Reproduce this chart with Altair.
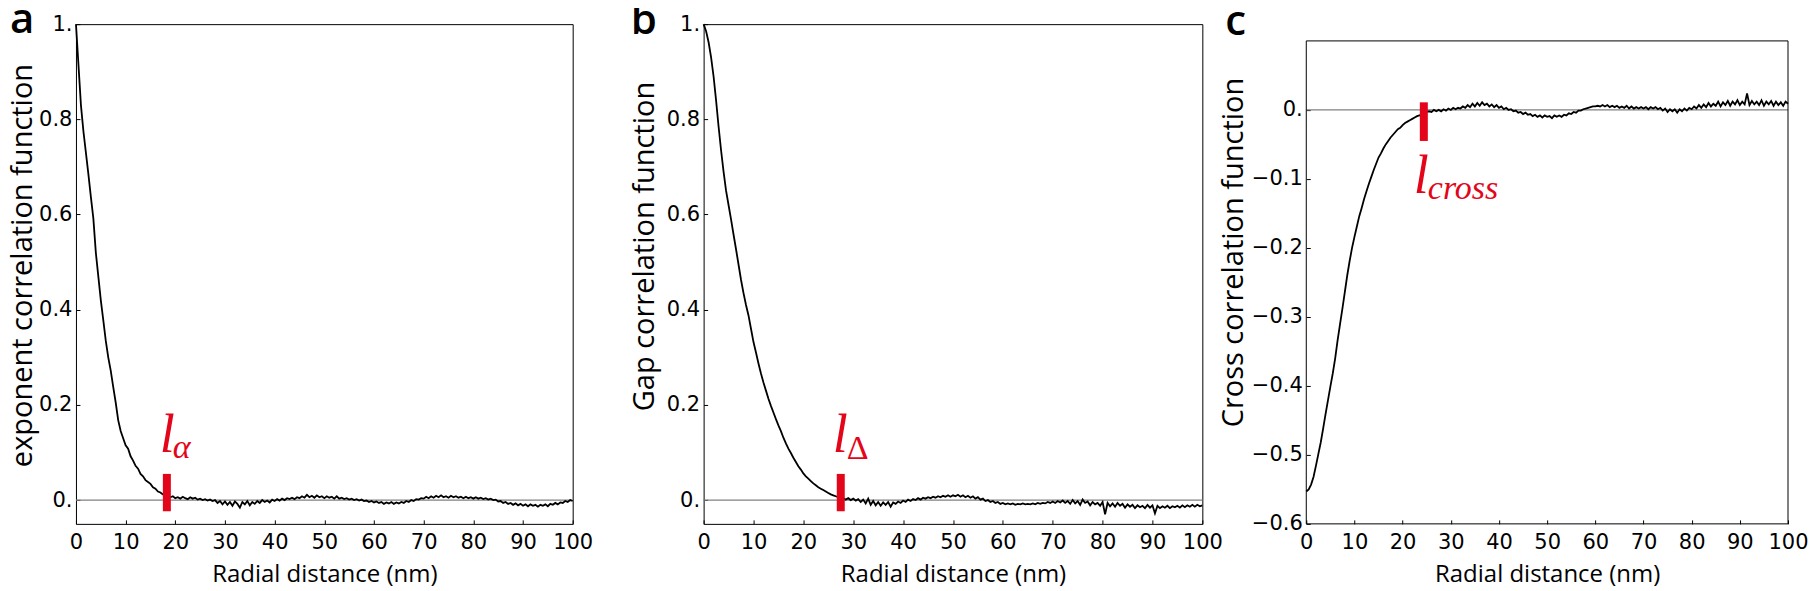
import altair as alt
import pandas as pd

# ---------------- data ----------------
radial_nm = [i * 0.5 for i in range(201)]  # sampling grid 0..100 nm

exponent_corr = [
    1.000, 0.915, 0.830, 0.775, 0.730, 0.685, 0.637, 0.592, 0.520, 0.470,
    0.420, 0.378, 0.335, 0.300, 0.272, 0.238, 0.205, 0.168, 0.145, 0.130,
    0.115, 0.108, 0.092, 0.083, 0.072, 0.066, 0.055, 0.050, 0.042, 0.038,
    0.034, 0.027, 0.024, 0.018, 0.016, 0.012, 0.011, 0.009, 0.006, 0.008,
    0.004, 0.006, 0.003, 0.007, 0.004, 0.002, 0.006, 0.003, 0.005, 0.001,
    0.003, 0.000, 0.002, -0.001, 0.001, -0.002, 0.000, -0.006, -0.002, -0.009,
    -0.003, -0.010, -0.004, -0.012, -0.003, -0.008, -0.016, -0.004, -0.009, -0.002,
    -0.011, -0.004, -0.008, -0.002, -0.006, 0.000, -0.004, -0.001, -0.005, 0.001,
    -0.002, 0.002, -0.001, 0.003, 0.000, 0.004, 0.002, 0.005, 0.002, 0.006,
    0.004, 0.008, 0.005, 0.011, 0.006, 0.009, 0.005, 0.010, 0.006, 0.008,
    0.004, 0.008, 0.005, 0.007, 0.003, 0.008, 0.003, 0.005, 0.002, 0.004,
    0.001, 0.003, 0.000, 0.002, -0.001, 0.001, -0.002, -0.001, -0.004, -0.002,
    -0.005, -0.003, -0.006, -0.004, -0.008, -0.005, -0.007, -0.004, -0.008, -0.005,
    -0.007, -0.004, -0.006, -0.002, -0.004, 0.000, -0.002, 0.002, 0.001, 0.004,
    0.003, 0.007, 0.004, 0.008, 0.005, 0.009, 0.006, 0.010, 0.006, 0.008,
    0.005, 0.009, 0.006, 0.008, 0.005, 0.007, 0.004, 0.007, 0.004, 0.006,
    0.003, 0.006, 0.003, 0.005, 0.002, 0.004, 0.001, 0.003, 0.000, 0.001,
    -0.003, -0.002, -0.006, -0.004, -0.008, -0.006, -0.010, -0.007, -0.011, -0.008,
    -0.012, -0.009, -0.013, -0.009, -0.012, -0.010, -0.014, -0.010, -0.012, -0.009,
    -0.013, -0.008, -0.010, -0.006, -0.009, -0.005, -0.006, -0.002, -0.004, 0.000,
    -0.002,
]

gap_corr = [
    1.000, 0.985, 0.962, 0.930, 0.890, 0.840, 0.785, 0.735, 0.690, 0.650,
    0.620, 0.590, 0.558, 0.527, 0.495, 0.463, 0.435, 0.410, 0.388, 0.360,
    0.332, 0.310, 0.287, 0.266, 0.247, 0.230, 0.213, 0.198, 0.184, 0.170,
    0.157, 0.145, 0.131, 0.119, 0.108, 0.099, 0.089, 0.080, 0.071, 0.064,
    0.056, 0.050, 0.045, 0.040, 0.035, 0.031, 0.027, 0.024, 0.021, 0.018,
    0.015, 0.012, 0.010, 0.008, 0.006, 0.005, 0.004, 0.001, 0.004, 0.000,
    0.003, -0.001, 0.002, -0.004, 0.001, -0.007, 0.003, -0.010, -0.002, -0.011,
    -0.004, -0.012, -0.005, -0.010, -0.004, -0.014, -0.005, -0.008, -0.003, -0.006,
    -0.001, -0.004, 0.001, -0.002, 0.002, 0.000, 0.004, 0.001, 0.005, 0.003,
    0.006, 0.004, 0.007, 0.005, 0.008, 0.006, 0.009, 0.007, 0.010, 0.007,
    0.010, 0.008, 0.011, 0.007, 0.010, 0.006, 0.009, 0.005, 0.008, 0.003,
    0.006, 0.001, 0.003, -0.002, 0.000, -0.004, -0.002, -0.006, -0.004, -0.008,
    -0.006, -0.009, -0.007, -0.009, -0.007, -0.010, -0.008, -0.009, -0.007, -0.009,
    -0.008, -0.009, -0.007, -0.009, -0.006, -0.008, -0.006, -0.007, -0.004, -0.006,
    -0.003, -0.006, -0.002, -0.005, -0.001, -0.006, -0.002, -0.008, 0.000, -0.007,
    -0.002, -0.010, 0.001, -0.006, -0.003, -0.011, -0.004, -0.009, -0.006, -0.012,
    -0.004, -0.030, -0.006, -0.013, -0.007, -0.014, -0.006, -0.012, -0.008, -0.016,
    -0.009, -0.014, -0.010, -0.017, -0.011, -0.015, -0.012, -0.017, -0.010, -0.016,
    -0.011, -0.028, -0.012, -0.017, -0.013, -0.016, -0.012, -0.017, -0.013, -0.015,
    -0.012, -0.016, -0.011, -0.015, -0.011, -0.014, -0.010, -0.014, -0.010, -0.013,
    -0.011,
]

cross_corr = [
    -0.553, -0.550, -0.543, -0.532, -0.516, -0.499, -0.482, -0.462, -0.441, -0.421,
    -0.401, -0.382, -0.360, -0.334, -0.311, -0.288, -0.264, -0.240, -0.219, -0.200,
    -0.184, -0.169, -0.154, -0.142, -0.129, -0.118, -0.107, -0.097, -0.087, -0.078,
    -0.069, -0.063, -0.056, -0.050, -0.045, -0.040, -0.036, -0.032, -0.028, -0.026,
    -0.022, -0.019, -0.017, -0.015, -0.013, -0.011, -0.009, -0.008, -0.006, -0.005,
    -0.003, -0.002, -0.003, 0.000, -0.002, 0.000, -0.002, 0.001, -0.001, 0.002,
    0.000, 0.003, 0.001, 0.003, 0.002, 0.005, 0.003, 0.007, 0.004, 0.009,
    0.005, 0.010, 0.006, 0.011, 0.007, 0.009, 0.005, 0.008, 0.004, 0.007,
    0.003, 0.005, 0.001, 0.003, 0.000, 0.001, -0.002, -0.001, -0.004, -0.003,
    -0.006, -0.004, -0.007, -0.006, -0.009, -0.007, -0.010, -0.008, -0.011, -0.008,
    -0.010, -0.009, -0.012, -0.008, -0.010, -0.008, -0.010, -0.007, -0.008, -0.005,
    -0.006, -0.003, -0.004, -0.001, -0.001, 0.001, 0.002, 0.003, 0.004, 0.005,
    0.005, 0.006, 0.005, 0.007, 0.005, 0.007, 0.004, 0.006, 0.004, 0.006,
    0.003, 0.005, 0.003, 0.006, 0.002, 0.005, 0.002, 0.004, 0.002, 0.004,
    0.002, 0.004, 0.001, 0.004, 0.002, 0.004, 0.001, 0.003, -0.001, 0.002,
    -0.003, 0.001, -0.002, 0.001, -0.004, 0.001, -0.002, 0.002, -0.001, 0.003,
    0.001, 0.005, 0.002, 0.007, 0.003, 0.008, 0.004, 0.010, 0.005, 0.009,
    0.006, 0.012, 0.005, 0.011, 0.007, 0.013, 0.006, 0.012, 0.008, 0.014,
    0.007, 0.012, 0.008, 0.024, 0.007, 0.013, 0.008, 0.012, 0.007, 0.014,
    0.006, 0.012, 0.008, 0.013, 0.006, 0.012, 0.007, 0.011, 0.006, 0.012,
    0.009,
]

x_ticks = [0, 10, 20, 30, 40, 50, 60, 70, 80, 90, 100]
ab_y_ticks = [0.0, 0.2, 0.4, 0.6, 0.8, 1.0]
c_y_ticks = [-0.6, -0.5, -0.4, -0.3, -0.2, -0.1, 0.0]
c_frame_range = [-0.6, 0.1]     # visible frame of panel c

panel_letters = ["a", "b", "c"]
y_titles = ["exponent correlation function", "Gap correlation function", "Cross correlation function"]
x_title = "Radial distance (nm)"

marker_x = [18.3, 27.5, 24.4]
marker_lo = [-0.0235, -0.0235, -0.045]
marker_hi = [0.055, 0.055, 0.011]
marker_main = ["l", "l", "l"]
marker_sub = ["α", "Δ", "cross"]

RED = "#e3061b"
LABEL_FONT = "DejaVu Sans"
TITLE_FONT = "Open Sans"
SERIF = "Liberation Serif"

y_label_expr = ("datum.value == 0 ? '0.' : (datum.value == 1 ? '1.' : "
                "format(datum.value, '.1f'))")


def panel(i, values, ydomain, yticks, letter_dx, letter_dy,
          text_on_top, main_off, sub_off, sub_italic, title_pad, title_y):
    line_df = pd.DataFrame({"r": radial_nm, "v": values})
    x_enc = alt.X(
        "r:Q",
        scale=alt.Scale(domain=[0, 100], nice=False, zero=False),
        axis=alt.Axis(
            values=x_ticks, title=x_title, grid=False, domain=False,
            ticks=True, tickSize=4, offset=-4, tickColor="black", tickWidth=1,
            labelFont=LABEL_FONT, labelFontSize=21, labelColor="black",
            labelPadding=8, labelFlush=False, format="d",
            titleFont=TITLE_FONT, titleFontSize=24, titleFontWeight="normal",
            titleColor="black", titlePadding=10,
        ),
    )
    y_enc = alt.Y(
        "v:Q",
        scale=alt.Scale(domain=ydomain, nice=False, zero=False),
        axis=alt.Axis(
            values=yticks, title=y_titles[i], grid=False, domain=False,
            ticks=True, tickSize=4, offset=-4, tickColor="black", tickWidth=1,
            labelFont=LABEL_FONT, labelFontSize=21, labelColor="black",
            labelPadding=4, labelFlush=False, labelExpr=y_label_expr,
            titleFont=TITLE_FONT, titleFontSize=29, titleFontWeight="normal",
            titleColor="black", titlePadding=title_pad, titleY=title_y,
        ),
    )

    zero = alt.Chart(pd.DataFrame({"v": [0.0]})).mark_rule(
        color="#808080", strokeWidth=1.2
    ).encode(y="v:Q")

    curve = alt.Chart(line_df).mark_line(
        color="black", strokeWidth=1.8
    ).encode(x=x_enc, y=y_enc)

    mk = pd.DataFrame({
        "r": [marker_x[i]], "v": [marker_lo[i]], "v2": [marker_hi[i]],
        "anchor": [marker_hi[i] if text_on_top else marker_lo[i]],
        "main": [marker_main[i]], "sub": [marker_sub[i]],
    })
    bar = alt.Chart(mk).mark_rule(color=RED, strokeWidth=8).encode(
        x="r:Q", y="v:Q", y2="v2:Q"
    )
    main_txt = alt.Chart(mk).mark_text(
        font=SERIF, fontStyle="italic", fontSize=54, color=RED,
        align="left", baseline="alphabetic", dx=main_off[0], dy=main_off[1]
    ).encode(x="r:Q", y=alt.Y("anchor:Q"), text="main:N")
    sub_txt = alt.Chart(mk).mark_text(
        font=SERIF, fontStyle="italic" if sub_italic else "normal",
        fontSize=34, color=RED, align="left", baseline="alphabetic",
        dx=sub_off[0], dy=sub_off[1]
    ).encode(x="r:Q", y=alt.Y("anchor:Q"), text="sub:N")

    letter = alt.Chart(pd.DataFrame({"t": [panel_letters[i]]})).mark_text(
        font=TITLE_FONT, fontSize=42, fontWeight=600, color="black",
        align="left", baseline="alphabetic"
    ).encode(text="t:N", x=alt.value(letter_dx), y=alt.value(letter_dy))

    return [zero, curve, bar, main_txt, sub_txt, letter]


la = panel(0, exponent_corr, [-0.05, 1.0], ab_y_ticks, -66, 8.5,
           True, (-7, -22), (6, -16), True, 1, 241)
lb = panel(1, gap_corr, [-0.05, 1.0], ab_y_ticks, -73, 9.5,
           True, (-8, -22), (6, -15), False, 7, 222)
lc = panel(2, cross_corr, [-0.6, 0.1243], c_y_ticks, -81, 10.5,
           False, (-10, 52), (4, 58), True, 3, 228)

pa = alt.layer(*la).properties(width=497, height=500)
pb = alt.layer(*lb).properties(width=499, height=500)

# panel c: frame drawn at the data limits -0.6 .. 0.1 (plot is a bit taller)
frame_h = alt.Chart(pd.DataFrame({"v": c_frame_range})).mark_rule(
    color="black", strokeWidth=1
).encode(y="v:Q")
frame_v = alt.Chart(pd.DataFrame({
    "r": [0, 100], "v": [c_frame_range[0]] * 2, "v2": [c_frame_range[1]] * 2
})).mark_rule(color="black", strokeWidth=1).encode(x="r:Q", y="v:Q", y2="v2:Q")
pc = alt.layer(*lc, frame_h, frame_v).properties(
    width=482, height=500, view=alt.ViewBackground(stroke="transparent")
)

chart = alt.hconcat(
    pa,
    alt.hconcat(pb, pc, spacing=104, bounds="flush"),
    spacing=131, bounds="flush",
).configure(
    padding={"left": 0, "top": -10, "right": 0, "bottom": 0},
    background="white",
).configure_view(stroke="black", strokeWidth=1)

chart.save("out.html", embed_options={"renderer": "svg", "actions": False})
